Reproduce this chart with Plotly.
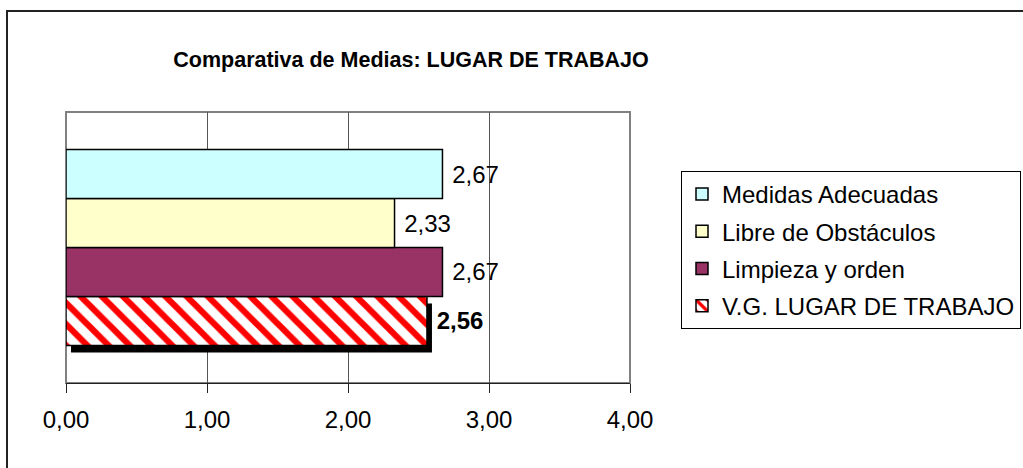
import plotly.graph_objects as go

# ---- data ----
category = ["LUGAR DE TRABAJO"]
series_names = ["Medidas Adecuadas", "Libre de Obstáculos", "Limpieza y orden", "V.G. LUGAR DE TRABAJO"]
series_values = [2.67, 2.33, 2.67, 2.56]
series_colors = ["#CCFFFF", "#FFFFCC", "#993366", "#FFFFFF"]
x_ticks = [0, 1, 2, 3, 4]
x_ticklabels = ["0,00", "1,00", "2,00", "3,00", "4,00"]
title_text = "Comparativa de Medias: LUGAR DE TRABAJO"

W, H = 1023, 468
ML, MR, MT, MB = 66, 393, 112, 85
PW, PH = W - ML - MR, H - MT - MB
BARGAP = 0.277
FONT = "Liberation Sans, Arial, sans-serif"
FS = 24

fig = go.Figure()

# add in reverse so the first series sits on top
n = len(series_names)
for i in reversed(range(n)):
    name = series_names[i]
    is_total = (i == n - 1)
    marker = dict(color=series_colors[i], line=dict(color="black", width=1.5))
    if is_total:
        marker["pattern"] = dict(shape="\\", fgcolor="#FF0000", bgcolor="#FFFFFF",
                                 size=15, solidity=0.42, fillmode="replace")
    fig.add_trace(go.Bar(
        y=category, x=[series_values[i]], name=name, orientation="h",
        marker=marker, legendgroup=name, legendrank=i,
        text=[series_values[i]], texttemplate=" %{x:.2f}", textposition="outside",
        textfont=dict(family=FONT, size=FS, color="black",
                      weight="bold" if is_total else "normal"),
        cliponaxis=False, hoverinfo="skip",
    ))

# shadow for the total bar (bottom bar in group)
gw = 1 - BARGAP
bw = gw / n
bottom_y0 = -gw / 2
bottom_y1 = bottom_y0 + bw
dx = 5 * (x_ticks[-1] - x_ticks[0]) / PW
dy = 7 * 1.0 / PH
fig.add_shape(type="rect", xref="x", yref="y",
              x0=dx, x1=series_values[-1] + dx,
              y0=bottom_y0 - dy, y1=bottom_y1 - dy,
              fillcolor="black", line=dict(width=0), layer="between")

# plot area border (gray)
fig.add_shape(type="rect", xref="paper", yref="paper", x0=0, x1=1, y0=0, y1=1,
              line=dict(color="#808080", width=2), layer="below")

# outer chart border
fig.add_shape(type="rect", xref="paper", yref="paper",
              x0=(7 - ML) / PW, x1=2.0, y0=-1.0, y1=(H - MB - 11) / PH,
              line=dict(color="#222222", width=2), fillcolor="rgba(0,0,0,0)", layer="above")

fig.update_layout(
    width=W, height=H,
    margin=dict(l=ML, r=MR, t=MT, b=MB, autoexpand=False),
    paper_bgcolor="white", plot_bgcolor="white",
    barmode="group", bargap=BARGAP, bargroupgap=0,
    separators=",.",
    font=dict(family=FONT, color="black"),
    title=dict(text="<b>" + title_text + "</b>", x=411 / W, xanchor="center",
               y=1 - 59 / H, yanchor="middle", yref="container",
               font=dict(family=FONT, size=21.5, color="black")),
    xaxis=dict(range=[x_ticks[0], x_ticks[-1]], tickmode="array", tickvals=x_ticks,
               ticktext=x_ticklabels, showgrid=True, gridcolor="#555555", gridwidth=1,
               showline=True, linecolor="#222222", linewidth=1, ticks="outside",
               ticklen=9, tickcolor="#222222", tickfont=dict(size=FS, family=FONT),
               ticklabelstandoff=6, zeroline=False, fixedrange=True),
    yaxis=dict(range=[-0.5, 0.5], showticklabels=False, showgrid=False, zeroline=False,
               ticks="", fixedrange=True),
    legend=dict(x=(681 - ML) / PW, xanchor="left", y=(H - MB - 171) / PH, yanchor="top",
                bordercolor="black", borderwidth=1, bgcolor="white",
                font=dict(size=FS, family=FONT, color="black"),
                traceorder="grouped", tracegroupgap=3, itemwidth=30),
    showlegend=True,
)

fig.write_html("out.html", config={"displayModeBar": False},
               post_script="document.body.style.margin='0px';")
